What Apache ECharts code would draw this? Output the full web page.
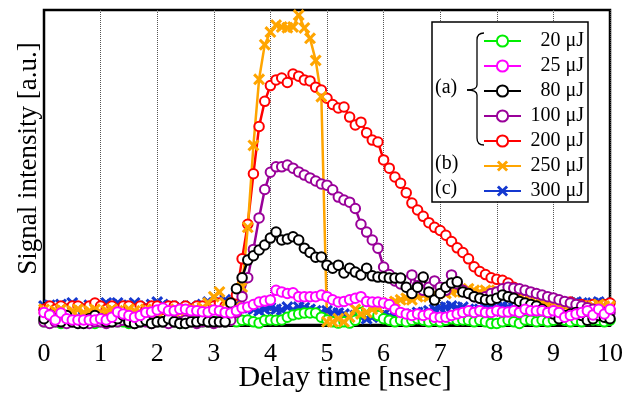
<!DOCTYPE html>
<html>
<head>
<meta charset="utf-8">
<script src="https://cdn.jsdelivr.net/npm/echarts@6/dist/echarts.min.js"></script>
<style>
  html, body { margin: 0; padding: 0; background: #fff; }
  #chart { width: 636px; height: 394px; }
</style>
</head>
<body>
<div id="chart"></div>
<script>
// delay grid: 0.0 .. 10.0 nsec, 0.1 nsec step
const delay = Array.from({ length: 101 }, (_, i) => +(i / 10).toFixed(1));
const xTicks = ['0', '1', '2', '3', '4', '5', '6', '7', '8', '9', '10'];

// signal intensity [a.u.], one value per delay point
const s20 = [
  1, 1.5, 1, 0.5, 1, 1, 1.5, 1, 1, 0.5, 1, 1, 1.5, 1, 1, 0.5, 1, 1, 1.5, 1,
  1, 1, 1.5, 1, 0.5, 1, 1, 1.5, 1, 1, 1, 1.5, 1, 1.5, 1, 1.5, 1.6, 1, 0.6, 1.5,
  1.6, 1.5, 1.6, 2.5, 3.2, 3.5, 3.8, 3.8, 3.8, 2.5, 1.6, 1, 0.6, 1, 0.6, 1.5, 4, 5, 4, 3,
  2, 1.5, 1, 1.5, 1, 1.5, 2, 1.5, 1, 1.5, 1, 1.5, 2, 1.5, 1.6, 1.5, 1, 1.5, 1, 0.5,
  0.5, 1, 1.5, 1, 0.5, 1.6, 1.5, 1, 1.5, 1, 1.5, 2, 1.5, 1, 1.5, 1, 1.5, 1.6, 1.5, 1,
  1.5
];
const s25 = [
  4, 3.2, 1.6, 3.8, 2, 1.6, 1.6, 1.6, 1.6, 1.6, 2, 1.6, 2.5, 4.1, 3.5, 3, 2.5, 3, 4, 4.1,
  4.8, 5.4, 4.5, 4.5, 5, 5, 4.5, 4.5, 4.2, 4.1, 4.8, 4.5, 4, 3.8, 4.5, 5.4, 5.7, 6.5, 7.3, 7.6,
  7.9, 11, 10.5, 10, 10.2, 9, 9, 9, 9, 9.5, 9, 8, 7.3, 7.5, 8, 8.5, 9, 7.5, 7.3, 7.3,
  7, 6.5, 5, 4, 3.5, 3, 3.5, 3, 3.5, 2.5, 2.5, 2.5, 3, 3.5, 4, 4.5, 4, 4.5, 4, 4,
  4.5, 4.1, 4.1, 4.5, 4, 5, 4.5, 4.5, 4.5, 4, 4.5, 4, 2.5, 3, 3.5, 4, 4.5, 3.2, 5, 3.5,
  5
];
const s80 = [
  2, 3.2, 2, 1, 3, 1, 0.5, 0.5, 2, 3, 2, 1, 1, 2, 3, 1, 0.5, 1, 1.5, 0.5,
  1, 1, 2, 1, 0.5, 0.5, 1, 1, 1.5, 1, 1, 1, 1, 7, 11.5, 15, 20.6, 22, 23.8, 25.4,
  27.6, 29.5, 27, 27.3, 28, 27, 24.4, 23, 21.5, 21.6, 19, 18, 19, 16.5, 18, 16.8, 15.9, 18, 15.6, 15.2,
  15.2, 14.9, 14.9, 14.9, 12, 10, 12, 15.2, 10.5, 7.9, 10, 12, 13.3, 13.7, 10.5, 10, 9, 8.5, 8, 7.9,
  8.5, 9.5, 9, 8.5, 7.5, 7, 6.5, 6, 5, 4, 3.5, 2, 3, 3.5, 4, 3, 1.5, 2, 3, 2.5,
  2
];
const s100 = [
  1, 0.5, 1, 1, 0.5, 1, 1.5, 1, 0.5, 1, 1, 0.5, 1, 1, 1.5, 1, 0.5, 1, 1, 0.5,
  1, 1, 0.5, 1, 1, 1.5, 1, 0.5, 1, 1, 0.5, 1, 1, 1.5, 4, 9, 15, 24, 34, 43,
  48.5, 50.2, 50.2, 50.8, 49.8, 48.6, 47.6, 46.7, 45.7, 44.8, 44.4, 42.9, 40.6, 39.7, 39, 37, 32, 29.5, 27, 24.4,
  18.4, 16, 14, 13, 14, 15.9, 12.5, 11, 12, 14, 12, 11, 15.9, 13, 11, 10, 9, 8.5, 9, 10,
  10.5, 11.5, 12, 11.7, 11.5, 11, 10.5, 10, 9.5, 9, 8.6, 8, 7.5, 7, 6.5, 6, 5.5, 5, 4.5, 4,
  4
];
const s200 = [
  5, 6, 5, 6, 5, 6, 6, 5, 6, 7, 6, 5, 6, 5, 6, 6, 5, 6, 5, 6,
  6, 5, 6, 6, 5, 6, 5, 6, 6, 5, 6, 7, 6, 7, 9.5, 21, 32, 48, 63, 71,
  76, 77.8, 78.4, 77, 79.7, 79, 77.8, 77.5, 75.5, 74.6, 72, 70, 68.9, 69.2, 66, 63.5, 64.4, 61, 58.7, 58.1,
  52.4, 49.8, 47, 45, 42, 38.7, 36.5, 34.5, 32.5, 31, 30, 28.5, 26.5, 24.5, 23, 21, 18.5, 17, 16, 15,
  14.5, 14.2, 13.3, 12, 11, 10, 9.5, 9, 8.5, 8, 7.5, 7, 7, 7.3, 6.5, 6.5, 6, 6.5, 6, 6.5,
  7
];
const s250 = [
  5, 4, 4.5, 5, 4, 4.5, 5, 4, 4.5, 5, 4, 4.5, 5, 4.5, 4, 5, 4.5, 4, 5, 4.5,
  4, 4.5, 5, 4.5, 4, 5, 4.5, 5, 5.5, 7, 9, 10.5, 7, 5, 6, 12, 31, 57, 78, 89,
  93, 95.2, 94.6, 94.4, 94.6, 98.4, 94.3, 91, 84, 72.5, 1, 1, 2, 1, 2.5, 5, 3.5, 4, 5, 5.5,
  6.5, 7, 7.5, 8, 8.5, 8, 9, 9.5, 9, 10, 10.5, 10, 10.5, 11, 10.5, 11.5, 11, 10.5, 11, 10.5,
  11, 10, 9.5, 9, 8.5, 8, 7.5, 7, 7, 6.5, 6.5, 6, 6, 6.5, 6, 6, 5.5, 6, 6.5, 6,
  6
];
const s300 = [
  6, 6.3, 5, 6.5, 6, 7, 5.5, 5, 6.3, 5.5, 6, 7, 6.5, 7, 6, 6.3, 7, 5.5, 6, 6.5,
  7.3, 6.5, 6, 5.5, 6, 5.5, 6, 5.5, 6.5, 7.3, 7, 7.3, 8, 7, 6.5, 5.5, 5.5, 5, 4.5, 5,
  5.5, 5, 4.8, 5.7, 4.8, 5.7, 5.5, 5, 4.5, 4, 4.5, 3.8, 3.8, 3.5, 2.5, 3, 2.5, 2, 2.5, 3,
  3.2, 3, 3.5, 3, 3.2, 3.5, 4, 4, 4.5, 5, 5.5, 5.7, 6, 5.5, 5.7, 5, 4.5, 5, 5.5, 5.5,
  5.7, 6, 5.7, 5.5, 6, 6.5, 6.3, 6, 6, 6.5, 6.3, 6.5, 6.5, 7, 7.3, 7, 6.5, 7, 7.3, 7,
  6.3
];

const legendNames = ['20 μJ', '25 μJ', '80 μJ', '100 μJ', '200 μJ', '250 μJ', '300 μJ'];
const serif = '"Liberation Serif", "DejaVu Serif", serif';
const crossPath = 'path://M0,1.8L1.8,0L5,3.2L8.2,0L10,1.8L6.8,5L10,8.2L8.2,10L5,6.8L1.8,10L0,8.2L3.2,5Z';

function circleSeries(name, values, color) {
  return {
    name,
    type: 'line',
    data: values.map((v, i) => [delay[i], v]),
    symbol: 'emptyCircle',
    symbolSize: 9.5,
    showSymbol: true,
    lineStyle: { color, width: 2.5 },
    itemStyle: { color, borderColor: color, borderWidth: 2.5 },
  };
}

function crossSeries(name, values, color) {
  return {
    name,
    type: 'line',
    data: values.map((v, i) => [delay[i], v]),
    symbol: crossPath,
    symbolSize: 12,
    showSymbol: true,
    lineStyle: { color, width: 2.5 },
    itemStyle: { color, borderWidth: 0 },
  };
}

// brace pieces next to the (a) group
const braceStyle = { stroke: '#000', lineWidth: 1.3, fill: 'none' };
function curve(x1, y1, cx, cy, x2, y2) {
  return { type: 'bezierCurve', z: 100, shape: { x1, y1, cpx1: cx, cpy1: cy, x2, y2 }, style: braceStyle };
}
function seg(x1, y1, x2, y2) {
  return { type: 'line', z: 100, shape: { x1, y1, x2, y2 }, style: braceStyle };
}

const chart = echarts.init(document.getElementById('chart'));

chart.setOption({
  animation: false,
  backgroundColor: '#fff',
  grid: {
    left: 44, right: 26, top: 10, bottom: 69,
    outerBoundsMode: 'none',
    show: true, borderColor: '#000', borderWidth: 2.5,
  },
  xAxis: {
    type: 'value',
    min: 0, max: 10, interval: 1,
    name: 'Delay time [nsec]',
    nameLocation: 'middle',
    nameGap: 38,
    nameMoveOverlap: false,
    nameTextStyle: { fontFamily: serif, fontSize: 30, color: '#000', padding: [0, 0, 0, 36] },
    axisLine: { show: true, lineStyle: { color: '#000', width: 3 } },
    axisTick: { show: true, inside: true, length: 4, lineStyle: { color: '#000' } },
    axisLabel: {
      margin: 16, fontFamily: serif, fontSize: 26, color: '#000',
      formatter: v => xTicks[Math.round(v)],
    },
    splitLine: { show: true, lineStyle: { color: '#555', type: 'dotted', width: 1 } },
  },
  yAxis: {
    type: 'value',
    min: 0, max: 100,
    name: 'Signal intensity [a.u.]',
    nameLocation: 'middle',
    nameGap: 2,
    nameMoveOverlap: false,
    nameTextStyle: { fontFamily: serif, fontSize: 27, color: '#000', padding: [0, 0, 0, 18] },
    axisLine: { show: true, lineStyle: { color: '#000', width: 2 } },
    axisTick: { show: false },
    axisLabel: { show: false },
    splitLine: { show: false },
  },
  legend: {
    data: legendNames,
    orient: 'vertical',
    left: 432, top: 22,
    padding: [9, 4, 1, 51],
    itemWidth: 37, itemHeight: 14, itemGap: 5,
    backgroundColor: '#fff',
    borderColor: '#000', borderWidth: 1.5, borderRadius: 0,
    formatter: name => '{t|' + name + '}',
    textStyle: {
      rich: {
        t: { fontFamily: serif, fontSize: 20, color: '#000', width: 58, align: 'right' },
      },
    },
  },
  graphic: [
    curve(484, 33, 477, 33, 477, 40),
    seg(477, 40, 477, 85),
    curve(477, 85, 477, 90, 467, 90),
    curve(467, 90, 477, 90, 477, 95),
    seg(477, 95, 477, 138),
    curve(477, 138, 477, 145, 484, 145),
    { type: 'text', z: 100, left: 435, top: 78, style: { text: '(a)', font: '20px ' + serif, fill: '#000' } },
    { type: 'text', z: 100, left: 435, top: 154, style: { text: '(b)', font: '20px ' + serif, fill: '#000' } },
    { type: 'text', z: 100, left: 435, top: 179, style: { text: '(c)', font: '20px ' + serif, fill: '#000' } },
  ],
  series: [
    crossSeries('300 μJ', s300, '#1438d0'),
    circleSeries('20 μJ', s20, '#00ee00'),
    circleSeries('200 μJ', s200, '#ff0000'),
    crossSeries('250 μJ', s250, '#ffa500'),
    circleSeries('100 μJ', s100, '#990099'),
    circleSeries('80 μJ', s80, '#000000'),
    circleSeries('25 μJ', s25, '#ff00ff'),
  ],
});

window.addEventListener('resize', () => chart.resize());
</script>
</body>
</html>
